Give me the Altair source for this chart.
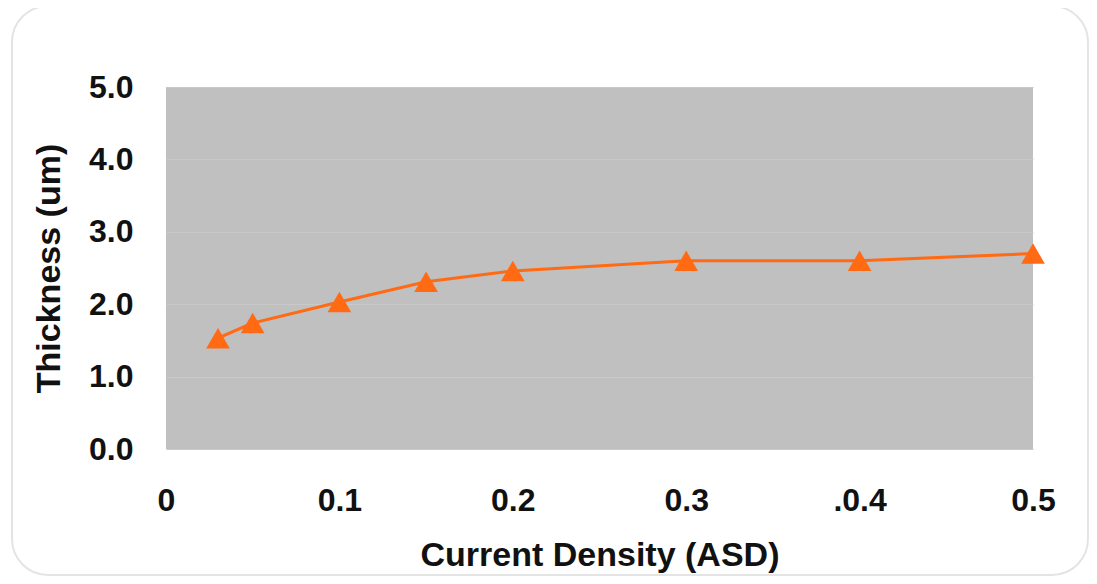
import altair as alt
import pandas as pd

current_density = [0.03, 0.05, 0.1, 0.15, 0.2, 0.3, 0.4, 0.5]
thickness = [1.53, 1.74, 2.03, 2.31, 2.46, 2.60, 2.60, 2.70]
x_ticks = [0, 0.1, 0.2, 0.3, 0.4, 0.5]
y_ticks = [0, 1, 2, 3, 4, 5]

df = pd.DataFrame({"x": current_density, "y": thickness})

FONT = "Liberation Sans"
ORANGE = "#ff6a13"

x_enc = alt.X(
    "x:Q",
    scale=alt.Scale(domain=[0, 0.5], nice=False, zero=False),
    axis=alt.Axis(
        values=x_ticks,
        labelExpr="datum.value == 0 ? '0' : (abs(datum.value - 0.4) < 0.001 ? '.0.4' : format(datum.value, '.1f'))",
        title="Current Density (ASD)",
        grid=False,
        domain=False,
        ticks=False,
        labelFlush=False,
        labelPadding=36,
        titlePadding=22,
    ),
)
y_enc = alt.Y(
    "y:Q",
    scale=alt.Scale(domain=[0, 5], nice=False),
    axis=alt.Axis(
        values=y_ticks,
        format=".1f",
        title="Thickness (um)",
        grid=True,
        gridColor="#c9c9c9",
        gridWidth=1,
        domain=False,
        ticks=False,
        labelFlush=False,
        labelPadding=33,
        titlePadding=22,
    ),
)

line = alt.Chart(df).mark_line(color=ORANGE, strokeWidth=3).encode(x=x_enc, y=y_enc)
pts = alt.Chart(df).mark_point(
    shape="triangle-up", filled=True, color=ORANGE, opacity=1, size=560
).encode(x="x:Q", y="y:Q")

border = alt.Chart(pd.DataFrame({"a": [0]})).mark_rect(
    filled=False, stroke="#e4e4e4", strokeWidth=2, cornerRadius=36, fill=None
).encode(
    x=alt.value(-154), x2=alt.value(922), y=alt.value(-81), y2=alt.value(488)
)

chart = (
    alt.layer(border, line, pts)
    .properties(
        width=867,
        height=362,
        autosize=alt.AutoSizeParams(type="none"),
        padding={"left": 158, "top": 79, "right": 56, "bottom": 127},
        background="white",
    )
    .configure_view(fill="#c0c0c0", stroke=None)
    .configure_axis(
        labelFont=FONT,
        labelFontSize=32,
        labelFontWeight="bold",
        labelColor="#111111",
        titleFont=FONT,
        titleFontSize=34,
        titleFontWeight="bold",
        titleColor="#111111",
    )
)

chart.save("out.html", embed_options={"renderer": "svg", "actions": False})
